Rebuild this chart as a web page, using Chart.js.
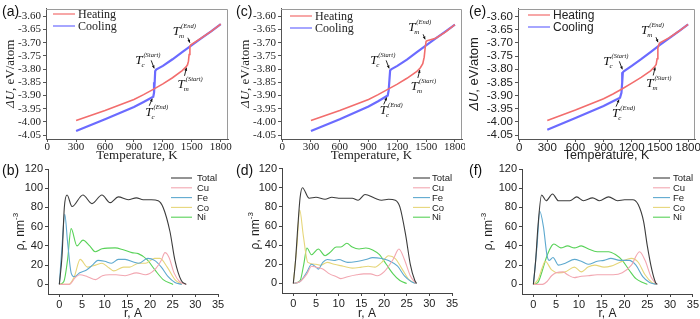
<!DOCTYPE html>
<html><head><meta charset="utf-8">
<script src="https://cdn.jsdelivr.net/npm/chart.js@4/dist/chart.umd.min.js"></script>
<style>
body{margin:0;background:#fff;width:700px;height:319px;position:relative;overflow:hidden}
canvas{position:absolute}
.lbl{position:absolute;font:14px "Liberation Sans",Arial,sans-serif;color:#111;line-height:1}
</style></head><body>
<canvas id="ca" width="235" height="163" style="left:0;top:0"></canvas>
<canvas id="cc" width="230" height="163" style="left:235px;top:0"></canvas>
<canvas id="ce" width="235" height="163" style="left:465px;top:0"></canvas>
<canvas id="cb" width="235" height="159" style="left:0;top:160px"></canvas>
<canvas id="cd" width="230" height="159" style="left:235px;top:160px"></canvas>
<canvas id="cf" width="235" height="159" style="left:465px;top:160px"></canvas>
<div class="lbl" style="left:2px;top:4px">(a)</div>
<div class="lbl" style="left:236px;top:4px">(c)</div>
<div class="lbl" style="left:469px;top:4px">(e)</div>
<div class="lbl" style="left:2px;top:163px">(b)</div>
<div class="lbl" style="left:236px;top:163px">(d)</div>
<div class="lbl" style="left:469px;top:163px">(f)</div>
<script>
// ---------- tick labels ----------
const tempTicks = [0, 300, 600, 900, 1200, 1500, 1800];
const energyTicks = [-4.05, -4.00, -3.95, -3.90, -3.85, -3.80, -3.75, -3.70, -3.65, -3.60];
const rTicks = [0, 5, 10, 15, 20, 25, 30, 35];
const rhoTicks = [0, 20, 40, 60, 80, 100, 120];

// ---------- energy panels ----------
const energySeries = ['Heating', 'Cooling'];
const transNames = ['c', 'm', 'm', 'c'];
const transKinds = ['Start', 'End', 'Start', 'End'];

const aHeatT = [300, 600, 900, 1000, 1100, 1200, 1300, 1400, 1440, 1455, 1465, 1472, 1480, 1490, 1600, 1700, 1800];
const aHeatU = [-3.995, -3.957, -3.915, -3.897, -3.877, -3.856, -3.833, -3.806, -3.792, -3.784, -3.77, -3.745, -3.715, -3.708, -3.682, -3.657, -3.630];
const aCoolT = [1800, 1700, 1600, 1500, 1400, 1300, 1200, 1130, 1120, 1115, 1108, 1100, 1000, 900, 600, 300];
const aCoolU = [-3.630, -3.657, -3.683, -3.709, -3.736, -3.763, -3.788, -3.802, -3.808, -3.85, -3.89, -3.905, -3.925, -3.944, -3.99, -4.035];
const aTransT = [1120, 1490, 1455, 1100];
const aTransU = [-3.805, -3.708, -3.784, -3.905];

const cHeatT = [300, 600, 900, 1000, 1100, 1200, 1300, 1400, 1440, 1465, 1480, 1490, 1500, 1510, 1600, 1700, 1800];
const cHeatU = [-3.995, -3.957, -3.915, -3.897, -3.877, -3.857, -3.835, -3.81, -3.795, -3.78, -3.755, -3.72, -3.695, -3.693, -3.683, -3.66, -3.632];
const cCoolT = [1800, 1700, 1600, 1500, 1400, 1300, 1200, 1140, 1125, 1118, 1110, 1100, 1000, 900, 600, 300];
const cCoolU = [-3.632, -3.658, -3.684, -3.71, -3.737, -3.764, -3.788, -3.80, -3.805, -3.84, -3.88, -3.900, -3.922, -3.942, -3.99, -4.035];
const cTransT = [1125, 1500, 1445, 1100];
const cTransU = [-3.805, -3.695, -3.792, -3.900];

const eHeatT = [300, 600, 900, 1000, 1100, 1200, 1300, 1400, 1440, 1460, 1470, 1478, 1490, 1500, 1600, 1700, 1800];
const eHeatU = [-3.995, -3.955, -3.912, -3.894, -3.874, -3.853, -3.831, -3.806, -3.792, -3.782, -3.76, -3.72, -3.705, -3.70, -3.68, -3.656, -3.630];
const eCoolT = [1800, 1700, 1600, 1500, 1400, 1300, 1200, 1115, 1105, 1098, 1090, 1075, 1000, 900, 600, 300];
const eCoolU = [-3.630, -3.656, -3.682, -3.708, -3.735, -3.762, -3.787, -3.808, -3.812, -3.85, -3.89, -3.908, -3.922, -3.940, -3.985, -4.030];
const eTransT = [1110, 1490, 1460, 1075];
const eTransU = [-3.808, -3.705, -3.782, -3.908];

// ---------- density panels ----------
const elements = ['Total', 'Cu', 'Fe', 'Co', 'Ni'];

const bTotalR = [0, 0.6, 1.1, 1.7, 2.8, 5.2, 7.2, 9.4, 11.2, 13.0, 15.2, 17.0, 18.5, 20.3, 21.8, 22.9, 24.4, 25.5, 26.9, 28.0];
const bTotal  = [0, 30, 80, 93, 81, 93, 84, 93, 85, 91, 88, 90, 88, 88, 87, 80, 55, 25, 4, 0];
const bCuR = [0, 2.2, 3.5, 4.5, 6.2, 8.0, 9.5, 11.0, 12.5, 14.5, 17.0, 19.0, 21.0, 22.5, 23.3, 24.2, 25.3, 26.5, 28.0];
const bCu  = [0, 0, 7, 10, 8, 5, 9, 10, 10, 9, 12, 10, 15, 25, 33, 28, 12, 3, 0];
const bFeR = [0, 0.6, 1.2, 1.8, 2.6, 3.3, 4.5, 6.0, 7.3, 8.5, 10.0, 11.5, 13.0, 14.5, 16.5, 17.5, 19.5, 21.0, 22.5, 24.0, 25.5, 27.0];
const bFe  = [0, 40, 73, 45, 12, 8, 12, 15, 20, 25, 24, 22, 26, 26, 23, 22, 27, 25, 18, 8, 2, 0];
const bCoR = [0, 2.0, 3.3, 4.6, 6.2, 8.0, 9.4, 11.0, 12.0, 14.2, 15.5, 17.5, 19.0, 21.0, 22.2, 23.8, 25.5, 27.0];
const bCo  = [0, 0, 8, 26, 18, 20, 22, 17, 14, 18, 18, 22, 22, 27, 27, 18, 5, 0];
const bNiR = [0, 1.0, 1.8, 2.6, 3.9, 5.2, 6.7, 7.9, 9.4, 12.3, 14.1, 16.0, 17.4, 19.3, 21.1, 22.9, 25.1];
const bNi  = [0, 3, 25, 58, 40, 46, 40, 34, 37, 38, 36, 33, 32, 26, 15, 5, 0];

const dTotalR = [0, 0.5, 1.0, 1.5, 2.0, 3.5, 5.0, 7.0, 8.5, 10.0, 12.0, 13.0, 14.3, 15.8, 18.0, 19.5, 21.0, 22.5, 23.5, 24.8, 25.8, 26.8, 27.2];
const dTotal  = [0, 25, 60, 90, 100, 89, 90, 88, 90, 89, 89, 89, 87, 93, 89, 87, 88, 87, 80, 50, 20, 3, 0];
const dCuR = [0, 1.5, 3.0, 4.0, 5.0, 6.5, 8.0, 9.5, 10.5, 12.0, 14.0, 15.5, 17.0, 18.5, 20.0, 22.0, 23.3, 24.5, 25.8, 27.0];
const dCu  = [0, 2, 10, 18, 17, 15, 10, 7, 5, 7, 9, 10, 10, 8, 12, 25, 36, 25, 8, 0];
const dFeR = [0, 1.5, 3.0, 4.0, 5.0, 5.5, 6.5, 7.5, 9.0, 10.0, 12.0, 14.0, 16.0, 17.5, 19.5, 21.0, 23.0, 24.5, 26.0, 27.0];
const dFe  = [0, 2, 12, 20, 17, 15, 22, 25, 24, 25, 22, 23, 25, 27, 26, 24, 18, 8, 2, 0];
const dCoR = [0, 0.8, 1.4, 2.2, 3.2, 5.0, 6.0, 7.5, 9.0, 11.0, 13.0, 15.0, 16.5, 18.0, 19.5, 21.0, 22.5, 24.0, 25.5, 27.0];
const dCo  = [0, 40, 77, 50, 22, 20, 19, 22, 20, 18, 16, 17, 18, 17, 22, 29, 26, 15, 4, 0];
const dNiR = [0, 1.5, 2.3, 3.0, 4.0, 5.5, 7.0, 8.0, 9.5, 10.5, 11.8, 13.0, 14.5, 16.0, 17.5, 19.0, 20.5, 22.0, 23.5, 25.0];
const dNi  = [0, 3, 20, 37, 30, 36, 29, 32, 38, 38, 42, 38, 36, 37, 35, 30, 20, 10, 3, 0];

const fTotalR = [0, 0.5, 1.0, 1.8, 2.8, 4.2, 5.5, 8.0, 9.5, 11.0, 13.0, 14.5, 16.5, 18.5, 20.0, 21.8, 23.0, 24.2, 25.0, 26.0, 26.8, 27.2];
const fTotal  = [0, 25, 60, 93, 87, 94, 87, 87, 91, 87, 90, 87, 91, 87, 88, 88, 83, 65, 40, 15, 2, 0];
const fCuR = [0, 2.0, 3.0, 4.0, 5.0, 6.5, 7.5, 9.0, 10.0, 12.0, 14.0, 16.0, 17.5, 19.5, 21.5, 23.3, 24.5, 25.8, 27.0];
const fCu  = [0, 0, 3, 9, 12, 13, 10, 7, 8, 9, 10, 10, 10, 12, 20, 34, 25, 8, 0];
const fFeR = [0, 0.8, 1.4, 2.2, 3.0, 3.5, 4.3, 5.5, 7.0, 9.0, 10.5, 12.0, 14.0, 15.5, 17.0, 19.0, 21.0, 22.5, 24.0, 25.5, 27.0];
const fFe  = [0, 40, 76, 60, 30, 25, 28, 20, 22, 26, 24, 21, 24, 25, 27, 25, 25, 20, 8, 2, 0];
const fCoR = [0, 1.0, 2.0, 2.6, 4.0, 5.5, 7.0, 9.0, 10.5, 12.0, 13.5, 15.5, 17.0, 19.0, 21.5, 23.0, 24.5, 26.0, 27.0];
const fCo  = [0, 5, 18, 24, 15, 12, 13, 18, 13, 18, 20, 18, 19, 23, 27, 23, 10, 2, 0];
const fNiR = [0, 1.0, 2.0, 3.0, 4.0, 4.5, 6.0, 7.5, 9.0, 10.5, 12.0, 14.0, 16.5, 18.0, 19.5, 21.0, 22.5, 24.0, 25.0];
const fNi  = [0, 2, 15, 30, 40, 42, 38, 40, 38, 40, 37, 34, 34, 31, 25, 15, 6, 2, 0];

// ---------- styles ----------
const SERIF = "'Liberation Serif','Times New Roman',serif";
const SANS = "'Liberation Sans',Arial,Helvetica,sans-serif";
const energyColors = ['#f26d6d', '#6b6bff'];
const energyWidths = [1.6, 2.2];
const elemColors = ['#3c3c3c', '#f2a7b1', '#5ea9cf', '#e6d67a', '#58d258'];

const pts = (xs, ys) => xs.map((x, i) => ({x: x, y: ys[i]}));

const decor = {
  id: 'decor',
  afterDraw(chart, args, o) {
    const ctx = chart.ctx, a = chart.chartArea;
    const ox = o.box[0], oy = o.box[1];
    ctx.save();
    if (o.frame) {
      ctx.strokeStyle = o.frameColor; ctx.lineWidth = 1;
      ctx.beginPath();
      ctx.moveTo(a.left, Math.round(a.top) + 0.5);
      ctx.lineTo(Math.round(a.right) - 0.5, Math.round(a.top) + 0.5);
      ctx.lineTo(Math.round(a.right) - 0.5, a.bottom);
      ctx.stroke();
    }
    // legend
    const L = o.legend;
    chart.data.datasets.forEach((ds, i) => {
      const y = L.y - oy + i * L.dy;
      const x0 = L.x - ox;
      ctx.strokeStyle = ds.borderColor; ctx.lineWidth = L.lw;
      ctx.beginPath(); ctx.moveTo(x0, y); ctx.lineTo(x0 + L.len, y); ctx.stroke();
      ctx.fillStyle = '#222'; ctx.font = L.font; ctx.textBaseline = 'middle'; ctx.textAlign = 'left';
      ctx.fillText(ds.label, L.tx - ox, y + 0.5);
    });
    // x title
    ctx.fillStyle = '#222'; ctx.textAlign = 'center'; ctx.textBaseline = 'middle';
    ctx.font = o.xTitle.font;
    ctx.fillText(o.xTitle.text, (a.left + a.right) / 2, o.xTitle.y - oy);
    // y title (mixed styles)
    ctx.save();
    ctx.translate(o.yTitle.x - ox, (a.top + a.bottom) / 2);
    ctx.rotate(-Math.PI / 2);
    let w = 0;
    o.yTitle.parts.forEach(p => { ctx.font = p.font; w += ctx.measureText(p.t).width; });
    let x = -w / 2;
    ctx.textAlign = 'left';
    o.yTitle.parts.forEach(p => {
      ctx.font = p.font;
      ctx.fillText(p.t, x, p.dy || 0);
      x += ctx.measureText(p.t).width;
    });
    ctx.restore();
    // transition annotations
    if (o.ann) {
      const xs = chart.scales.x, ys = chart.scales.y;
      o.ann.T.forEach((T, i) => {
        const px = xs.getPixelForValue(T), py = ys.getPixelForValue(o.ann.U[i]);
        const off = o.ann.off[i];
        const tx = px + off.ax, ty = py + off.ay;
        const hx = px + off.hx, hy = py + off.hy;
        ctx.strokeStyle = '#111'; ctx.fillStyle = '#111'; ctx.lineWidth = 0.9;
        ctx.beginPath(); ctx.moveTo(tx, ty); ctx.lineTo(hx, hy); ctx.stroke();
        const ang = Math.atan2(hy - ty, hx - tx);
        ctx.beginPath();
        ctx.moveTo(hx, hy);
        ctx.lineTo(hx - 3.2 * Math.cos(ang - 0.45), hy - 3.2 * Math.sin(ang - 0.45));
        ctx.lineTo(hx - 3.2 * Math.cos(ang + 0.45), hy - 3.2 * Math.sin(ang + 0.45));
        ctx.closePath(); ctx.fill();
        const bx = px + off.tx, by = py + off.ty;
        ctx.textAlign = 'left'; ctx.textBaseline = 'alphabetic';
        ctx.font = 'italic 13px ' + SERIF;
        ctx.fillText('T', bx, by);
        const wT = ctx.measureText('T').width;
        ctx.font = 'italic 7px ' + SERIF;
        ctx.fillText(transNames[i], bx + wT - 1, by + 3);
        ctx.font = 'italic 6.5px ' + SERIF;
        ctx.fillText('(' + transKinds[i] + ')', bx + wT + 1, by - 7);
      });
    }
    ctx.restore();
  }
};

function axisOpts(min, max, ticks, fmt, font, fixed, horiz, color, pad) {
  return {
    type: 'linear', min: min, max: max,
    afterBuildTicks: s => { s.ticks = ticks.map(v => ({value: v})); },
    afterFit: s => { if (horiz) s.height = fixed; else s.width = fixed; },
    ticks: {font: font, color: '#222', padding: pad, maxRotation: 0, autoSkip: false, callback: v => fmt(v)},
    grid: {display: true, drawOnChartArea: false, drawTicks: true, tickLength: 3, color: color, tickColor: color},
    border: {display: true, color: color, width: 1},
    title: {display: false}
  };
}

function makeChart(id, box, area, datasets, p) {
  const canvas = document.getElementById(id);
  return new Chart(canvas, {
    type: 'line',
    data: {datasets: datasets},
    options: {
      responsive: false, animation: false, devicePixelRatio: 1,
      layout: {padding: {left: 0, top: area.top - box[1], right: box[0] + box[2] - area.right, bottom: 0}},
      scales: {
        x: axisOpts(p.xmin, p.xmax, p.xticks, p.xfmt, p.tickFont, box[1] + box[3] - area.bottom, true, p.axisColor, p.xpad),
        y: axisOpts(p.ymin, p.ymax, p.yticks, p.yfmt, p.tickFont, area.left - box[0], false, p.axisColor, 2)
      },
      plugins: {
        legend: {display: false}, tooltip: {enabled: false},
        decor: Object.assign({box: box}, p.decor)
      },
      elements: {point: {radius: 0}}
    },
    plugins: [decor]
  });
}

function energySets(hT, hU, cT, cU) {
  return [[hT, hU], [cT, cU]].map((d, i) => ({
    label: energySeries[i], data: pts(d[0], d[1]), borderColor: energyColors[i],
    borderWidth: energyWidths[i], pointRadius: 0, tension: 0, fill: false
  }));
}
function densitySets(list) {
  return list.map((d, i) => ({
    label: elements[i], data: pts(d[0], d[1]), borderColor: elemColors[i],
    borderWidth: 1.1, pointRadius: 0, cubicInterpolationMode: 'monotone', fill: false
  }));
}

const annOff = [
  {tx: -20, ty: -6, ax: -4, ay: -10, hx: -1, hy: -2},
  {tx: -18, ty: -10, ax: -3, ay: -7, hx: -1, hy: -2},
  {tx: -10, ty: 23, ax: -3, ay: 11, hx: -1, hy: 3},
  {tx: -8, ty: 19, ax: -4, ay: 9, hx: -1, hy: 2}
];

function energyPanel(id, box, area, sets, trT, trU, serifTicks, leg) {
  const tf = serifTicks ? {family: SERIF, size: 11} : {family: SANS, size: 11.5};
  const tfam = serifTicks ? SERIF : SANS;
  makeChart(id, box, area, sets, {
    xmin: -12, xmax: 1875, ymin: -4.065, ymax: -3.571,
    xticks: tempTicks, yticks: energyTicks,
    xfmt: v => String(v), yfmt: v => v.toFixed(2),
    tickFont: tf, axisColor: '#555', xpad: -1,
    decor: {
      frame: true, frameColor: '#9a9a9a',
      legend: {x: leg.x, y: leg.y, dy: 12, len: leg.len, tx: leg.tx, lw: 1.2, font: '12px ' + tfam},
      xTitle: {text: 'Temperature, K', y: 156, font: (serifTicks ? '13px ' : '12.5px ') + tfam},
      yTitle: {x: leg.ytx, parts: [{t: 'ΔU', font: 'italic 13px ' + tfam}, {t: ', eV/atom', font: '13px ' + tfam}]},
      ann: {T: trT, U: trU, off: annOff}
    }
  });
}

function densityPanel(id, box, area, sets, leg) {
  makeChart(id, box, area, sets, {
    xmin: -2.5, xmax: 35, ymin: -10, ymax: 120,
    xticks: rTicks, yticks: rhoTicks,
    xfmt: v => String(v), yfmt: v => String(v),
    tickFont: {family: SANS, size: 11}, axisColor: '#444', xpad: 1,
    decor: {
      frame: false,
      legend: {x: leg.x, y: 178, dy: 9.8, len: leg.len, tx: leg.tx, lw: 1.1, font: '9.5px ' + SANS},
      xTitle: {text: 'r, A', y: box[1] + 154, font: '12px ' + SANS},
      yTitle: {x: box[0] + leg.ytx, parts: [{t: 'ρ, nm', font: '12px ' + SANS}, {t: '-3', font: '8px ' + SANS, dy: -5}]}
    }
  });
}

energyPanel('ca', [0, 0, 235, 163], {left: 46, top: 4, right: 228, bottom: 139},
  energySets(aHeatT, aHeatU, aCoolT, aCoolU), aTransT, aTransU, true,
  {x: 53, y: 14, len: 22, tx: 78, ytx: 11});
energyPanel('cc', [235, 0, 230, 163], {left: 281, top: 4, right: 463, bottom: 139},
  energySets(cHeatT, cHeatU, cCoolT, cCoolU), cTransT, cTransU, true,
  {x: 290, y: 16, len: 22, tx: 315, ytx: 246});
energyPanel('ce', [465, 0, 235, 163], {left: 518, top: 4, right: 697, bottom: 139},
  energySets(eHeatT, eHeatU, eCoolT, eCoolU), eTransT, eTransU, false,
  {x: 528, y: 15, len: 22, tx: 553, ytx: 474});

densityPanel('cb', [0, 160, 235, 159], {left: 48, top: 169, right: 218, bottom: 294},
  densitySets([[bTotalR, bTotal], [bCuR, bCu], [bFeR, bFe], [bCoR, bCo], [bNiR, bNi]]),
  {x: 171, len: 21, tx: 197, ytx: 21});
densityPanel('cd', [235, 160, 230, 159], {left: 282, top: 168, right: 452, bottom: 293},
  densitySets([[dTotalR, dTotal], [dCuR, dCu], [dFeR, dFe], [dCoR, dCo], [dNiR, dNi]]),
  {x: 413, len: 17, tx: 432, ytx: 21});
densityPanel('cf', [465, 160, 235, 159], {left: 522, top: 169, right: 693, bottom: 294},
  densitySets([[fTotalR, fTotal], [fCuR, fCu], [fFeR, fFe], [fCoR, fCo], [fNiR, fNi]]),
  {x: 653, len: 17, tx: 673, ytx: 24});
</script>
</body></html>
